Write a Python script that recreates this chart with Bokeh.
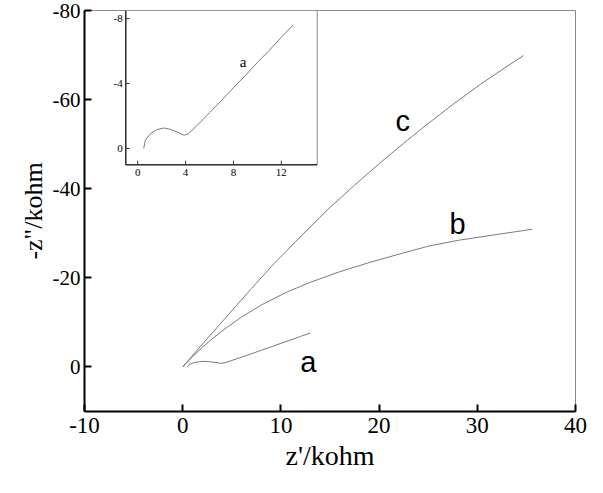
import math
from bokeh.plotting import figure
from bokeh.models import Range1d, FixedTicker
from bokeh.core.properties import value
from bokeh.embed import file_html
from bokeh.resources import INLINE

# ---------------- data ----------------
a_x = [0.5, 0.64, 1.06, 1.61, 2.17, 2.72, 3.28, 3.89, 4.25, 5.0, 6.0, 7.0, 8.0, 9.0, 10.0, 11.0, 12.0, 13.0]
a_y = [0.0, -0.51, -0.91, -1.16, -1.26, -1.18, -1.01, -0.81, -0.91, -1.45, -2.2, -2.95, -3.75, -4.5, -5.3, -6.05, -6.85, -7.62]

b_x = [0.0, 1.0, 2.0, 3.0, 4.4, 6.0, 8.0, 10.6, 13.0, 15.9, 19.1, 22.0, 25.0, 28.0, 31.6, 35.6]
b_y = [0.0, -2.3, -4.4, -6.3, -8.7, -11.2, -13.9, -16.8, -19.0, -21.3, -23.5, -25.3, -27.1, -28.4, -29.6, -30.9]

c_x = [0.0, 2.0, 5.0, 7.0, 9.3, 12.2, 14.9, 17.5, 20.0, 22.5, 24.4, 27.5, 30.3, 32.5, 34.7]
c_y = [0.0, -5.1, -12.6, -17.6, -23.2, -29.7, -35.6, -40.8, -45.6, -50.2, -53.6, -58.9, -63.4, -66.7, -69.9]

curve_labels = ["a", "b", "c"]
curve_label_x = [12.8, 28.0, 22.4]
curve_label_y = [-1.1, -32.0, -55.2]

x_ticks = [-10, 0, 10, 20, 30, 40]
y_ticks = [0, -20, -40, -60, -80]

inset_x_ticks = [0, 4, 8, 12]
inset_y_ticks = [0, -4, -8]
inset_label = ["a"]
inset_label_x = [8.8]
inset_label_y = [-5.3]

# ---------------- layout constants ----------------
MAIN_X = (-10, 40)
MAIN_Y = (10, -80)          # bottom, top
INSET_X = (-1, 15)
INSET_Y = (1, -8.5)         # bottom, top
BOX_X = (-5.8, 13.7)        # inset placement in main data coords
BOX_Y = (-45.4, -80.0)      # bottom, top

SERIF = value("Liberation Serif")
SANS = value("Liberation Sans")
CURVE_COLOR = "#7a7a7a"


def extra_range(main, box, inner):
    k = (box[1] - box[0]) / (inner[1] - inner[0])
    inv = lambda m: inner[0] + (m - box[0]) / k
    return Range1d(start=inv(main[0]), end=inv(main[1]))


p = figure(width=587, height=477, output_backend="svg", toolbar_location=None,
           x_range=Range1d(*MAIN_X), y_range=Range1d(*MAIN_Y),
           min_border_left=84, min_border_right=12, min_border_top=10, min_border_bottom=66)
p.grid.visible = False
p.background_fill_color = "white"
p.border_fill_color = "white"
p.outline_line_color = "#8a8a8a"
p.outline_line_width = 1

p.xaxis.ticker = FixedTicker(ticks=x_ticks)
p.yaxis.ticker = FixedTicker(ticks=y_ticks)
p.xaxis.major_label_overrides = {t: str(t) for t in x_ticks}
p.yaxis.major_label_overrides = {t: str(t) for t in y_ticks}
for ax in (p.xaxis[0], p.yaxis[0]):
    ax.axis_line_color = "black"
    ax.axis_line_width = 2
    ax.major_tick_in = 7
    ax.major_tick_out = 0
    ax.major_tick_line_width = 2
    ax.major_tick_line_color = "black"
    ax.minor_tick_line_color = None
    ax.major_label_text_font = "Liberation Serif"
    ax.major_label_text_color = "black"
    ax.axis_label_text_font = "Liberation Serif"
    ax.axis_label_text_font_style = "normal"
    ax.axis_label_text_color = "black"

p.xaxis.major_label_text_font_size = "23px"
p.yaxis.major_label_text_font_size = "21px"
p.xaxis.axis_label_text_font_size = "28px"
p.yaxis.axis_label_text_font_size = "26px"
p.xaxis.major_label_standoff = 6
p.yaxis.major_label_standoff = 4
p.xaxis.axis_label_standoff = 4
p.yaxis.axis_label_standoff = 2
p.xaxis.axis_label = "z'/kohm"
p.yaxis.axis_label = '-z"/kohm'

# main curves
p.line(a_x, a_y, line_color=CURVE_COLOR, line_width=1)
p.line(b_x, b_y, line_color=CURVE_COLOR, line_width=1)
p.line(c_x, c_y, line_color=CURVE_COLOR, line_width=1)
p.text(x=curve_label_x, y=curve_label_y, text=curve_labels, text_font=SANS,
       text_font_size="29px", text_color="black", text_align="center", text_baseline="middle")

# inset
p.extra_x_ranges = {"ix": extra_range(MAIN_X, BOX_X, INSET_X)}
p.extra_y_ranges = {"iy": extra_range(MAIN_Y, BOX_Y, INSET_Y)}
IR = dict(x_range_name="ix", y_range_name="iy")

p.quad(left=[INSET_X[0]], right=[INSET_X[1]], bottom=[INSET_Y[0]], top=[INSET_Y[1]],
       fill_color="white", line_color="#8a8a8a", line_width=1, **IR)
p.segment(x0=[INSET_X[0], INSET_X[0]], y0=[INSET_Y[0], INSET_Y[0]],
          x1=[INSET_X[0], INSET_X[1]], y1=[INSET_Y[1], INSET_Y[0]],
          line_color="#333333", line_width=1.5, **IR)
p.ray(x=inset_x_ticks, y=[INSET_Y[0]] * len(inset_x_ticks), length=4, length_units="screen",
      angle=math.pi / 2, line_color="#333333", line_width=1, **IR)
p.ray(x=[INSET_X[0]] * len(inset_y_ticks), y=inset_y_ticks, length=4, length_units="screen",
      angle=0, line_color="#333333", line_width=1, **IR)
p.text(x=inset_x_ticks, y=[INSET_Y[0]] * len(inset_x_ticks), text=[str(t) for t in inset_x_ticks],
       y_offset=4, text_font=SERIF, text_font_size="11px", text_color="black",
       text_align="center", text_baseline="top", **IR)
p.text(x=[INSET_X[0]] * len(inset_y_ticks), y=inset_y_ticks, text=[str(t) for t in inset_y_ticks],
       x_offset=-3, text_font=SERIF, text_font_size="11px", text_color="black",
       text_align="right", text_baseline="middle", **IR)
p.line(a_x, a_y, line_color=CURVE_COLOR, line_width=1, **IR)
p.text(x=inset_label_x, y=inset_label_y, text=inset_label, text_font=SERIF,
       text_font_size="15px", text_color="black", text_align="center", text_baseline="middle", **IR)

open("out.html", "w").write(file_html(p, INLINE))
